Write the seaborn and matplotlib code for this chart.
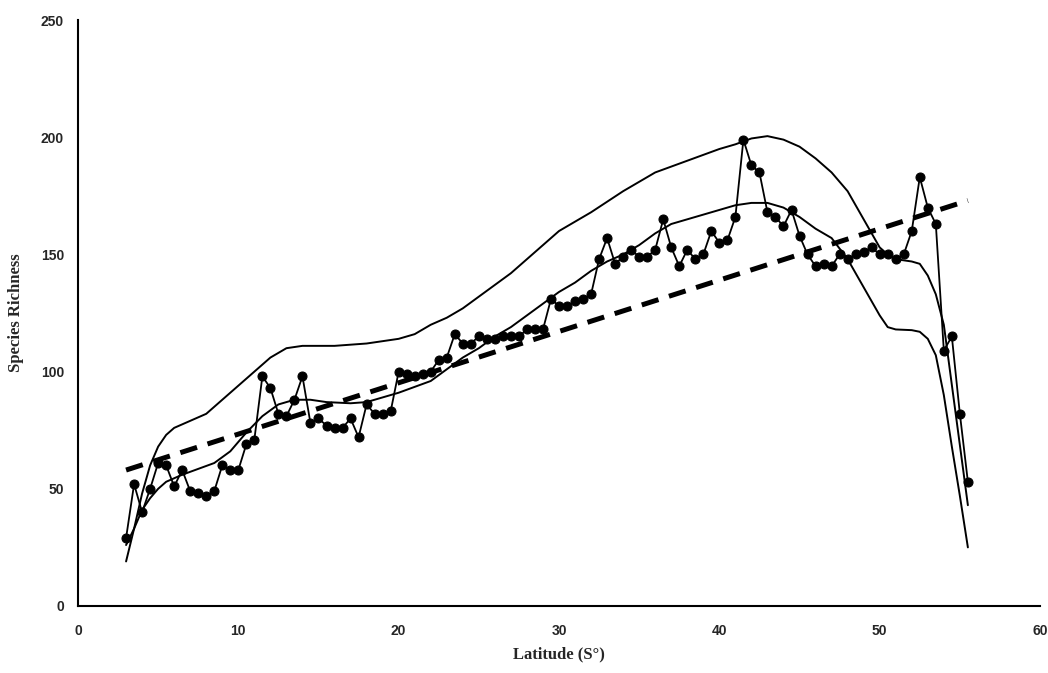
import numpy as np
import pandas as pd
import matplotlib
matplotlib.use("Agg")
import matplotlib.pyplot as plt
import seaborn as sns

# observed richness, one point every 0.5 degrees
obs_lat = [3.0 + 0.5 * i for i in range(106)]
obs_rich = [
    29, 52, 40, 50, 61, 60, 51, 58, 49, 48,
    47, 49, 60, 58, 58, 69, 71, 98, 93, 82,
    81, 88, 98, 78, 80, 77, 76, 76, 80, 72,
    86, 82, 82, 83, 100, 99, 98, 99, 100, 105,
    106, 116, 112, 112, 115, 114, 114, 115, 115, 115,
    118, 118, 118, 131, 128, 128, 130, 131, 133, 148,
    157, 146, 149, 152, 149, 149, 152, 165, 153, 145,
    152, 148, 150, 160, 155, 156, 166, 199, 188, 185,
    168, 166, 162, 169, 158, 150, 145, 146, 145, 150,
    148, 150, 151, 153, 150, 150, 148, 150, 160, 183,
    170, 163, 109, 115, 82, 53,
]

# upper model curve
upper_lat = [3.0, 3.5, 4.0, 4.5, 5.0, 5.5, 6.0, 7.0, 8.0, 9.0, 10.0, 11.0,
             12.0, 13.0, 14.0, 16.0, 18.0, 20.0, 21.0, 22.0, 23.0, 24.0, 25.0,
             26.0, 27.0, 28.0, 29.0, 30.0, 32.0, 34.0, 36.0, 38.0, 40.0, 41.0,
             42.0, 43.0, 44.0, 45.0, 46.0, 47.0, 48.0, 49.0, 49.5, 50.0, 50.5,
             51.0, 52.0, 52.5, 53.0, 53.5, 54.0, 55.5]
upper_rich = [19, 33, 48, 60, 68, 73, 76, 79, 82, 88, 94, 100,
              106, 110, 111, 111, 112, 114, 116, 120, 123, 127, 132,
              137, 142, 148, 154, 160, 168, 177, 185, 190, 195, 197,
              199.5, 200.5, 199, 196, 191, 185, 177, 165, 159, 153, 150,
              148, 147, 146, 141, 133, 120, 43]

# middle model curve
mid_lat = [3.0, 3.5, 4.0, 4.5, 5.0, 5.5, 6.5, 7.5, 8.5, 9.5, 10.5, 11.5,
           12.5, 13.5, 14.5, 15.5, 17.0, 18.0, 19.0, 20.0, 21.0, 22.0, 23.0,
           24.0, 25.0, 26.0, 27.0, 28.0, 29.0, 30.0, 31.0, 32.0, 33.0, 34.0,
           35.0, 36.0, 37.0, 38.0, 39.0, 40.0, 41.0, 42.0, 43.0, 44.0, 45.0,
           46.0, 47.0, 48.0, 49.0, 50.0, 50.5, 51.0, 52.0, 52.5, 53.0, 53.5,
           54.0, 54.5, 55.0, 55.5]
mid_rich = [26, 33, 41, 46, 50, 53, 56, 58.5, 61, 66, 74, 81,
            86, 88, 88, 87, 86.5, 87, 89, 91, 93.5, 96, 101,
            106, 110, 115, 119, 124, 129, 134, 138, 143, 147, 150,
            154, 159, 163, 165, 167, 169, 171, 172, 172, 170, 166,
            161, 157, 148, 136, 124, 119, 118, 117.7, 117, 114, 107,
            90, 68, 47, 25]

# linear trend endpoints
trend_lat = [3.0, 55.5]
trend_rich = [58, 173]

sns.set_style("white")

fig = plt.figure(figsize=(10.48, 6.73), dpi=100)
ax = fig.add_axes([0.0744, 0.0996, 0.918, 0.8705])

sns.lineplot(x=upper_lat, y=upper_rich, ax=ax, color="black", linewidth=1.4)
sns.lineplot(x=mid_lat, y=mid_rich, ax=ax, color="black", linewidth=1.4)
sns.lineplot(x=trend_lat, y=trend_rich, ax=ax, color="black", linewidth=3.6,
             linestyle=(0, (3.5, 2.2)))
sns.lineplot(x=obs_lat, y=obs_rich, ax=ax, color="black", linewidth=1.3,
             marker="o", markersize=6.5, markeredgecolor="black")

ax.set_xlim(0, 60)
ax.set_ylim(0, 250)
ax.set_xticks(range(0, 61, 10))
ax.set_yticks(range(0, 251, 50))

for side in ["top", "right"]:
    ax.spines[side].set_visible(False)
for side in ["left", "bottom"]:
    ax.spines[side].set_color("black")
    ax.spines[side].set_linewidth(1.5)

ax.tick_params(axis="both", direction="out", length=4, width=1.2,
               color="black", labelsize=10)
ax.tick_params(axis="x", pad=9)
ax.tick_params(axis="y", pad=6)
for lab in ax.get_xticklabels() + ax.get_yticklabels():
    lab.set_fontfamily("Liberation Sans")
    lab.set_fontweight("bold")

ax.set_xlabel("Latitude (S\u00b0)", fontsize=12, fontweight="bold",
              family="Liberation Serif", labelpad=6)
ax.set_ylabel("Species Richness", fontsize=12, fontweight="bold",
              family="Liberation Serif", labelpad=12)

fig.savefig("out.png", dpi=100, facecolor="white")
